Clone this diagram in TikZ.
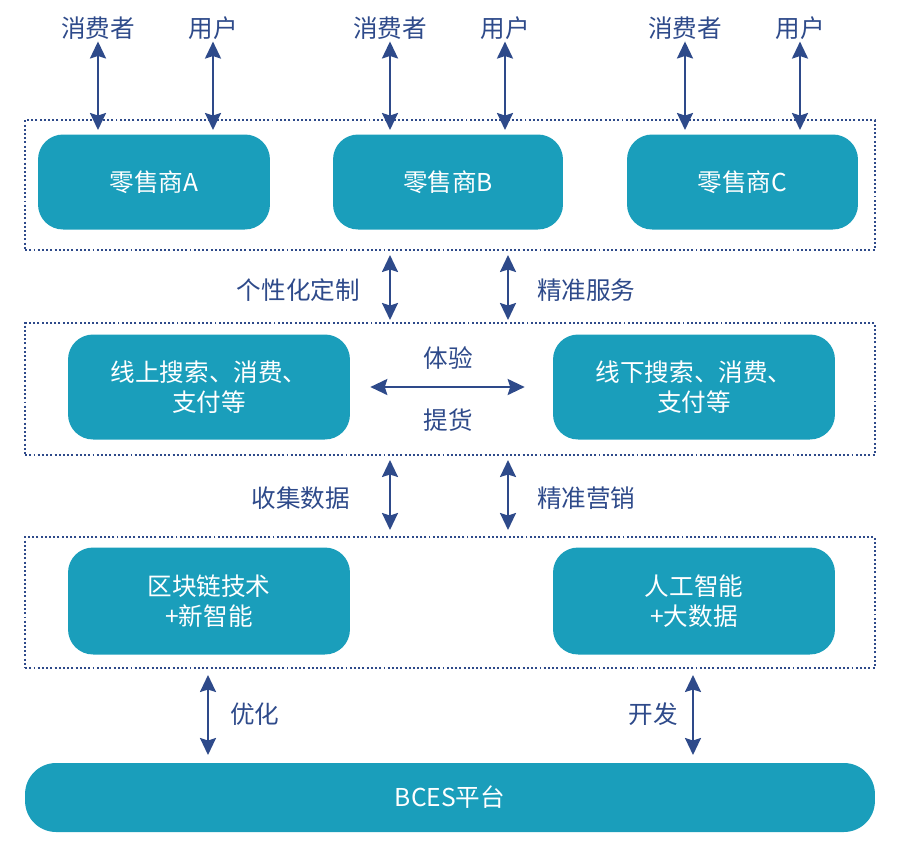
\documentclass[tikz,border=0pt]{standalone}
\usepackage{fontspec}
\usepackage{tikz}
\usetikzlibrary{arrows.meta,positioning,calc}
\newfontfamily\cjk{Noto Sans CJK SC}
\definecolor{shopteal}{HTML}{1A9EBB}
\definecolor{linknavy}{HTML}{2E4A8A}

\begin{document}
\begin{tikzpicture}[x=0.02cm,y=-0.02cm,
  every node/.style={font=\cjk\fontsize{14}{17}\selectfont},
  lbl/.style={text=linknavy,inner sep=1pt},
  box/.style={fill=shopteal,text=white,rounded corners=0.5cm,align=center,inner sep=2pt},
  grp/.style={draw=linknavy,line width=0.8pt,dash pattern=on 1.1pt off 1.3pt,minimum width=17cm},
  dbl/.style={linknavy,line width=1.3pt,arrows={Triangle[length=0.34cm,width=0.32cm,inset=0.05cm]-Triangle[length=0.34cm,width=0.32cm,inset=0.05cm]}}]
  \useasboundingbox (0,0) rectangle (904,850);
  % cadres pointillés
  \node[grp,minimum height=2.6cm] (g1) at (450,185) {};
  \node[grp,minimum height=2.64cm] (g2) at (450,389) {};
  \node[grp,minimum height=2.62cm] (g3) at (450,602.5) {};
  % détaillants
  \node[box,minimum width=4.64cm,minimum height=1.9cm] (shA) at (154,182) {零售商A};
  \node[box,minimum width=4.6cm,minimum height=1.9cm] (shB) at (448,182) {零售商B};
  \node[box,minimum width=4.62cm,minimum height=1.9cm] (shC) at (742.5,182) {零售商C};
  % niveau 2
  \node[box,minimum width=5.64cm,minimum height=2.1cm] (on) at (209,387) {线上搜索、消费、\\支付等};
  \node[box,minimum width=5.64cm,minimum height=2.1cm] (off) at (694,387) {线下搜索、消费、\\支付等};
  % niveau 3
  \node[box,minimum width=5.64cm,minimum height=2.14cm] (bc) at (209,601) {区块链技术\\+新智能};
  \node[box,minimum width=5.64cm,minimum height=2.14cm] (ai) at (694,601) {人工智能\\+大数据};
  % plateforme
  \node[box,rounded corners=0.62cm,minimum width=17cm,minimum height=1.38cm] (bces) at (450,797.5) {BCES平台};
  % consommateurs / utilisateurs
  \foreach \n/\x in {A/98,B/390,C/685}
    {\node[lbl] (cs\n) at (\x,28) {消费者};
     \coordinate (pc\n) at (\x,130);
     \draw[dbl] (cs\n) -- (pc\n);}
  \foreach \n/\x in {A/213,B/505,C/800}
    {\node[lbl] (us\n) at (\x,28) {用户};
     \coordinate (pu\n) at (\x,130);
     \draw[dbl] (us\n) -- (pu\n);}
  % liens entre niveaux
  \foreach \i/\x/\ya/\yb in {1/390/255/320,2/508/255/320,3/390/460/530,4/508/460/530,5/208/675/755,6/693/675/755}
    {\coordinate (a\i) at (\x,\ya);
     \coordinate (b\i) at (\x,\yb);
     \draw[dbl] (a\i) -- (b\i);}
  \node[lbl,anchor=east] (custom) at (362,290) {个性化定制};
  \node[lbl,anchor=west] (serv) at (535,290) {精准服务};
  \node[lbl,anchor=east] (collect) at (352,498) {收集数据};
  \node[lbl,anchor=west] (mkt) at (535,498) {精准营销};
  \node[lbl,anchor=west] (opt) at (228,714) {优化};
  \node[lbl,anchor=east] (dev) at (680,714) {开发};
  % expérience / retrait
  \draw[dbl,shorten <=0.4cm,shorten >=0.56cm] (on.east) -- (off.west);
  \node[lbl] (exp) at (448,358) {体验};
  \node[lbl] (pick) at (448,420) {提货};
\end{tikzpicture}
\end{document}
